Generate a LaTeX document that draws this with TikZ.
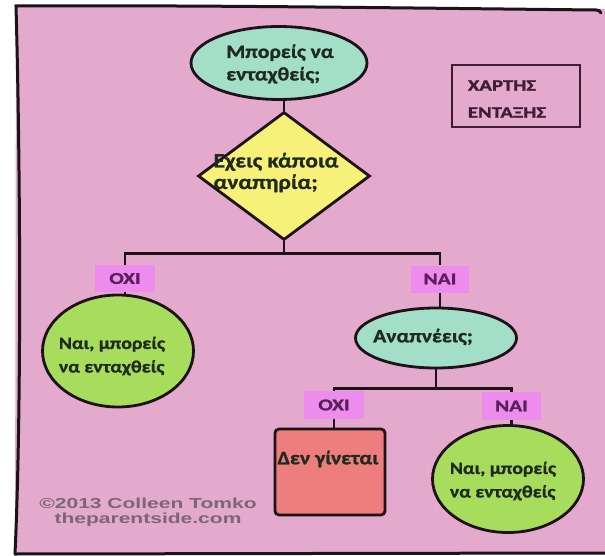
\documentclass[tikz,border=0pt]{standalone}
\usepackage{fontspec}
\setmainfont{Carlito}
\newfontfamily\nodefont[FakeStretch=1.14, BoldFeatures={FakeBold=1.2}]{Carlito}
\newfontfamily\labfont[FakeStretch=1.3, BoldFeatures={FakeBold=1.4}]{Carlito}
\newfontfamily\copyfont[FakeStretch=1.45]{Liberation Sans}
\usetikzlibrary{shapes.geometric}
\definecolor{bgpink}{HTML}{E4AACD}
\definecolor{tealc}{HTML}{A2DEC8}
\definecolor{yellowc}{HTML}{F7F17A}
\definecolor{greenc}{HTML}{A8DC5C}
\definecolor{labpink}{HTML}{EE8CEE}
\definecolor{redc}{HTML}{EE7D7D}
\definecolor{linec}{HTML}{1C1218}
\definecolor{txtc}{HTML}{1F2A20}
\definecolor{labtxt}{HTML}{5B1F5E}
\definecolor{titlec}{HTML}{3E1E36}
\definecolor{copyc}{HTML}{7A6674}
\tikzset{
  shapeline/.style={draw=linec, line width=2.8pt},
  oval/.style={ellipse, shapeline, inner sep=0pt},
  dia/.style={diamond, shapeline, fill=yellowc, inner sep=0pt, minimum width=172pt, minimum height=128pt},
  lab/.style={rectangle, fill=labpink, inner sep=0pt, text=labtxt, font=\labfont\bfseries\fontsize{16.5}{18}\selectfont},
  txt/.style={align=left, inner sep=0pt, text=txtc, font=\nodefont\bfseries\fontsize{19}{22.5}\selectfont},
  smalltxt/.style={txt, font=\nodefont\bfseries\fontsize{17.3}{23.5}\selectfont},
  diatxt/.style={txt, font=\nodefont\bfseries\fontsize{20.5}{21.5}\selectfont},
  conn/.style={draw=linec, line width=2.7pt},
  framel/.style={draw=linec, line width=3pt, line cap=round},
}
\begin{document}
\begin{tikzpicture}[x=1pt,y=-1pt]
\useasboundingbox (0,0) rectangle (605,556);
\fill[white] (0,0) rectangle (605,556);
\fill[bgpink] (16,6) -- (605,9) -- (605,554) -- (15,554) -- cycle;
\draw[framel] (15,554) .. controls (22,400) and (20,150) .. (16,6) .. controls (200,5) and (400,8) .. (596,10) .. controls (599,10) and (600,11) .. (601,13);
\draw[framel] (15,554) -- (605,553);

% title
\node[rectangle, draw=titlec, line width=1.2pt, minimum width=128pt, minimum height=62pt, inner sep=0pt] (title) at (516,96) {};
\node[align=left, inner sep=0pt, text=titlec, font=\labfont\bfseries\fontsize{16}{27}\selectfont] (titlet) at (507,99) {ΧΑΡΤΗΣ\\ΕΝΤΑΞΗΣ};

% top question
\node[oval, fill=tealc, minimum width=176pt, minimum height=73pt] (top) at (279,63) {};
\node[txt] (topt) at (280,64) {Μπορείς να\\ενταχθείς;};

\node[dia] (d) at (284,176) {};
\node[diatxt] (dt) at (276,172.5) {Εχεις κάποια\\αναπηρία;};

\draw[conn] (d.north) -- (d.north |- top.south);

\node[lab, minimum width=60pt, minimum height=27pt] (l1) at (125,278.5) {ΟΧΙ};
\node[lab, minimum width=58pt, minimum height=27pt] (l2) at (440,279) {ΝΑΙ};

\draw[conn] (d.south) -- ++(0,12) coordinate (j1);
\draw[conn] (l1.north) |- (j1) -| (l2.north);

\node[oval, fill=greenc, minimum width=151pt, minimum height=112pt] (c1) at (118,351) {};
\node[smalltxt] (c1t) at (112,356) {Ναι, μπορείς\\να ενταχθείς};
\draw[conn] (l1.south) -- (l1.south |- c1.north);

\node[oval, fill=tealc, minimum width=161pt, minimum height=60pt] (e2) at (436,338) {};
\node[txt] (e2t) at (423,337) {Αναπνέεις;};
\draw[conn] (l2.south) -- (l2.south |- e2.north);

\node[lab, minimum width=60pt, minimum height=28pt] (l3) at (334,405) {ΟΧΙ};
\node[lab, minimum width=59pt, minimum height=28pt] (l4) at (511.5,406) {ΝΑΙ};
\draw[conn] (e2.south) -- ++(0,19) coordinate (j2);
\draw[conn] (l3.north) |- (j2) -| (l4.north);

\node[rectangle, shapeline, fill=redc, rounded corners=4pt, minimum width=110pt, minimum height=86pt, inner sep=0pt] (r) at (330,472) {};
\node[txt] (rt) at (328,459) {Δεν γίνεται};
\draw[conn] (l3.south) -- (l3.south |- r.north);

\node[oval, fill=greenc, minimum width=151pt, minimum height=107pt] (c2) at (508,479) {};
\node[smalltxt] (c2t) at (503,481) {Ναι, μπορείς\\να ενταχθείς};
\draw[conn] (l4.south) -- (l4.south |- c2.north);

\node[align=center, inner sep=0pt, text=copyc, font=\copyfont\bfseries\fontsize{14.5}{15}\selectfont] (copy) at (148,512) {©2013 Colleen Tomko\\theparentside.com};
\end{tikzpicture}
\end{document}
